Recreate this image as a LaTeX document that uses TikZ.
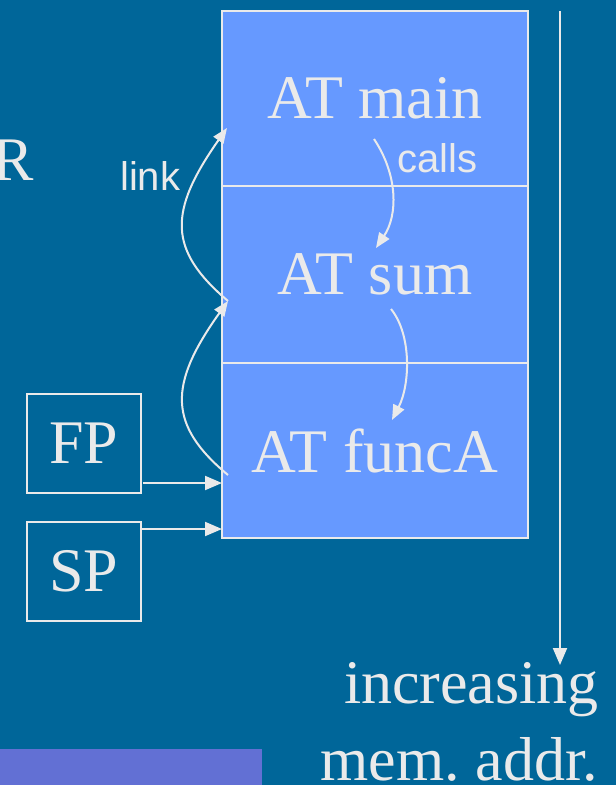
\documentclass[tikz,border=0pt]{standalone}
\usepackage{fontspec}
\setmainfont{Liberation Serif}
\setsansfont{Liberation Sans}
\usepackage{xcolor}
\usetikzlibrary{arrows.meta,positioning,calc}
\definecolor{slidebg}{RGB}{0,102,153}
\definecolor{framefill}{RGB}{102,153,255}
\definecolor{chalk}{RGB}{234,234,234}
\definecolor{notefill}{RGB}{98,112,212}
\tikzset{
  arframe/.style={
    rectangle, draw=chalk, line width=2pt, fill=framefill,
    minimum width=306pt, minimum height=176pt, outer sep=0pt, inner sep=0pt,
    text=chalk, font=\fontsize{62}{62}\selectfont
  },
  regbox/.style={
    rectangle, draw=chalk, line width=2pt,
    minimum width=114pt, minimum height=99pt, outer sep=0pt, inner sep=0pt,
    text=chalk, font=\fontsize{62}{62}\selectfont
  },
  bigtext/.style={text=chalk, font=\fontsize{62}{62}\selectfont, inner sep=0pt},
  smalltext/.style={text=chalk, font=\sffamily\fontsize{40}{40}\selectfont, inner sep=0pt},
  ptrarrow/.style={-{Triangle[length=17pt,width=14pt]}, line width=2pt, draw=chalk},
  linkarrow/.style={-{Triangle[length=15pt,width=12pt]}, line width=2pt, draw=chalk},
}

\begin{document}
\begin{tikzpicture}[x=1pt, y=1pt]
  \useasboundingbox[fill=slidebg] (0,0) rectangle (616,-785);
  \fill[notefill] (-2,-749) rectangle (262,-790);

  \node (atmain) [arframe, minimum height=175pt] at (375,-98.5) {AT main};
  \node (atsum) [arframe, minimum height=177pt, below=0pt of atmain] {AT sum};
  \node (atfunc) [arframe, minimum height=175pt, below=0pt of atsum] {AT funcA};

  \node (fp) [regbox] at (84,-443.5) {FP};
  \node (sp) [regbox, below=29pt of fp] {SP};

  \node (rlbl) [bigtext, anchor=base east] at (34,-180) {R};
  \node (linklbl) [smalltext, anchor=base west] at (120,-190) {link};
  \node (callslbl) [smalltext, anchor=base west] at (397,-172) {calls};
  \node (incr) [bigtext, anchor=base east] at (599,-703) {increasing};
  \node (memaddr) [bigtext, anchor=base east] at (598,-780) {mem.\ addr.};

  \coordinate (callsA) at (374,-139);
  \coordinate (callsB) at (376,-248);
  \coordinate (callsC) at (391,-309);
  \coordinate (callsD) at (392,-420);
  \draw[linkarrow] (callsA) .. controls (398,-175) and (398,-215) .. (callsB);
  \draw[linkarrow] (callsC) .. controls (412,-335) and (410,-385) .. (callsD);

  \coordinate (linkA) at (228,-301);
  \coordinate (linkB) at (227,-128);
  \coordinate (linkC) at (228,-475);
  \draw[linkarrow] (linkA) .. controls (168,-250) and (168,-212) .. (linkB);
  \draw[linkarrow] (linkC) .. controls (168,-425) and (168,-385) .. (linkA);

  \coordinate (fpout) at ([shift={(2,10)}]fp.south east);
  \coordinate (spout) at ([yshift=-7pt]sp.north east);
  \draw[ptrarrow] (fpout) -- (fpout -| atfunc.west);
  \draw[ptrarrow] (spout) -- (spout -| atfunc.west);

  \coordinate (addrtop) at (atmain.north -| 560,0);
  \coordinate (addrend) at (560,-665);
  \draw[ptrarrow] (addrtop) -- (addrend);
\end{tikzpicture}
\end{document}
